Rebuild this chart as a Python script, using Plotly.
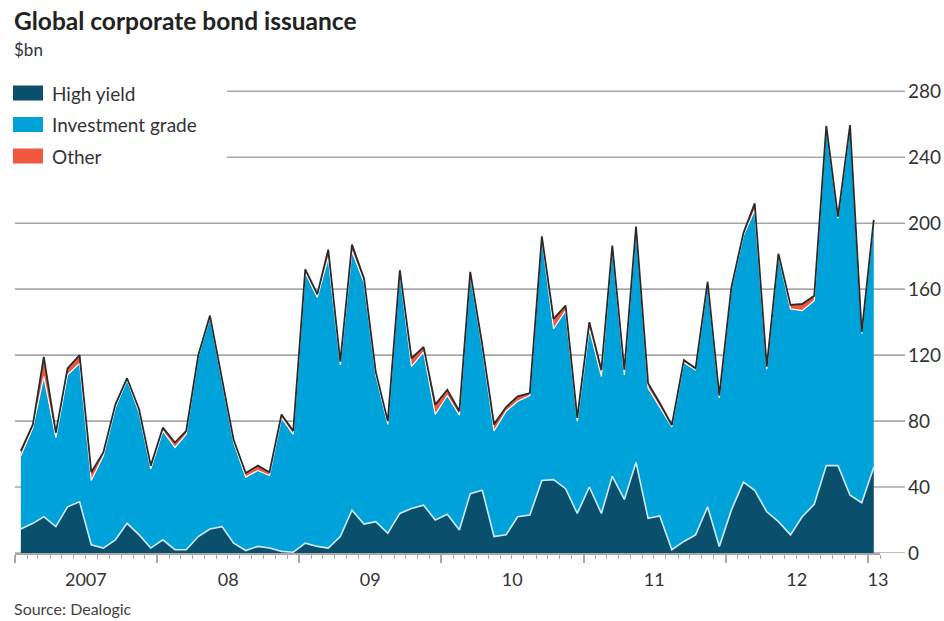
import pandas as pd
import plotly.graph_objects as go

# Monthly data, Jan 2007 - Jan 2013, $bn
months = pd.date_range("2007-01-01", periods=73, freq="MS") + pd.Timedelta(days=15)

high_yield = [14.5, 18, 22, 16, 28, 31, 5, 3, 8, 18, 11, 3,
              8, 2, 2, 10, 14.5, 16, 6, 1.5, 4, 3, 1, 0.5,
              6, 4, 3, 10, 26, 17.5, 19, 12, 24, 27, 29, 20,
              23.5, 14, 36, 38, 10, 11, 22, 23, 44, 44.5, 39, 24,
              40, 24, 46.5, 32.5, 55, 21, 22.5, 2, 7, 11, 28, 4,
              26, 43, 38, 25, 19, 11, 22, 29.5, 53, 53, 35, 30.5,
              52]
investment_grade = [44.5, 58, 85, 54, 80, 84, 39, 56, 80, 87, 74, 48,
                    66, 62, 70, 109, 128.5, 88, 61, 44.5, 46, 44, 81, 71.5,
                    164, 151, 176, 104, 157, 146.5, 89, 66, 146, 86, 93, 64,
                    72, 69.5, 133, 86, 64, 75, 70, 72.5, 147, 91.5, 108, 56,
                    96, 83, 138.5, 75.5, 142, 79, 66, 74.5, 108.5, 100, 135, 90,
                    134, 149.5, 170, 86.5, 161.5, 137, 125, 123.5, 205, 150, 223.5, 102.5,
                    149]
other = [3, 2, 12, 3, 4, 5, 5, 2, 2, 1, 2, 2,
         2, 3, 2, 1, 1, 1, 1.5, 2.5, 3, 2, 2, 2,
         2, 2, 5, 2, 4, 2.5, 2, 2, 1.5, 5, 3, 6,
         3.5, 2.5, 1.5, 2, 4, 2.5, 3, 1.5, 1, 6, 3, 2,
         4, 4, 1.5, 3, 1, 3, 2.5, 1, 1.5, 1, 1.5, 1.5,
         1, 1.5, 4, 1.5, 1, 2.5, 4, 3, 1, 1, 1, 1,
         1]

series_names = ["High yield", "Investment grade", "Other"]
y_ticks = [0, 40, 80, 120, 160, 200, 240, 280]
year_label_pos = ["2007-07-02", "2008-07-02", "2009-07-02", "2010-07-02",
                  "2011-07-02", "2012-07-02", "2013-01-27"]
year_labels = ["2007", "08", "09", "10", "11", "12", "13"]

HY_C = "#0a4f6c"
IG_C = "#00a2da"
OT_C = "#f1563e"
GRID = "#a8a8a8"
FONT = "Lato"
colors = [HY_C, IG_C, OT_C]

W, H = 944, 621
L, R, T, B = 15, 64, 88, 68
PW, PH = W - L - R, H - T - B


def px(x):
    return (x - L) / PW


def py(y):
    return (H - B - y) / PH


fig = go.Figure()
fig.add_trace(go.Scatter(x=months, y=high_yield, name=series_names[0],
                         stackgroup="s", mode="lines",
                         line=dict(color="#cfe9f4", width=1.6),
                         fillcolor=HY_C, showlegend=False))
fig.add_trace(go.Scatter(x=months, y=investment_grade, name=series_names[1],
                         stackgroup="s", mode="lines",
                         line=dict(color="#ffffff", width=1.2),
                         fillcolor=IG_C, showlegend=False))
fig.add_trace(go.Scatter(x=months, y=other, name=series_names[2],
                         stackgroup="s", mode="lines",
                         line=dict(color="#2a2a2a", width=1.8),
                         fillcolor=OT_C, showlegend=False))

x_start = pd.Timestamp("2007-01-01")
x_end = pd.Timestamp("2013-02-01")
major = pd.date_range("2007-01-01", "2013-01-01", freq="YS")
minor = pd.date_range("2007-01-01", "2013-02-01", freq="MS")

# horizontal gridlines (the top two stop short to leave room for the legend),
# running on past the plot into the right-hand tick labels
for v in y_ticks:
    x0 = px(227) if v >= 240 else 0
    fig.add_shape(type="line", xref="paper", yref="y", x0=x0, x1=px(905),
                  y0=v, y1=v, line=dict(color=GRID, width=1.6), layer="below")

# legend (swatches + labels)
for i, (name, c) in enumerate(zip(series_names, colors)):
    yc = 93 + i * 31.5
    fig.add_shape(type="rect", xref="paper", yref="paper",
                  x0=px(13), x1=px(43), y0=py(yc - 7.5), y1=py(yc + 7.5),
                  fillcolor=c, line=dict(width=0))
    fig.add_annotation(text=name, xref="paper", yref="paper", x=px(50), y=py(yc),
                       xanchor="left", yanchor="middle", showarrow=False,
                       font=dict(size=19, color="#333333", family=FONT))

fig.update_layout(
    width=W, height=H,
    margin=dict(l=L, r=R, t=T, b=B, autoexpand=False),
    paper_bgcolor="white", plot_bgcolor="white",
    font=dict(family=FONT, color="#333333", size=16),
    showlegend=False,
    xaxis=dict(type="date", range=[x_start, x_end], showgrid=False, automargin=False,
               zeroline=False, showline=True, linecolor=GRID, linewidth=1.6,
               tickmode="array", tickvals=list(major), showticklabels=False,
               ticks="outside", ticklen=8, tickcolor=GRID, tickwidth=1.5,
               minor=dict(tickmode="array", tickvals=list(minor), ticks="outside",
                          ticklen=4, tickcolor=GRID, tickwidth=1.2, showgrid=False)),
    xaxis2=dict(type="date", range=[x_start, x_end], overlaying="x", side="bottom",
                anchor="y", showgrid=False, zeroline=False, showline=False, automargin=False,
                tickmode="array", tickvals=year_label_pos, ticktext=year_labels,
                ticks="outside", ticklen=10, tickcolor="rgba(0,0,0,0)",
                tickfont=dict(size=18, color="#333333")),
    yaxis=dict(range=[0, 282], side="right", showgrid=False, zeroline=False,
               showline=False, tickmode="array", tickvals=y_ticks, automargin=False,
               ticks="", ticklabelstandoff=27,
               tickfont=dict(size=19, color="#333333")),
)

fig.add_trace(go.Scatter(x=[x_start], y=[0], xaxis="x2", mode="markers",
                         marker=dict(opacity=0), showlegend=False, hoverinfo="skip"))

fig.add_annotation(text="<b>Global corporate bond issuance</b>", xref="paper", yref="paper",
                   x=px(12), y=py(20), xanchor="left", yanchor="middle", showarrow=False,
                   font=dict(size=24.5, color="#222222", family=FONT))
fig.add_annotation(text="$bn", xref="paper", yref="paper", x=px(12), y=py(50),
                   xanchor="left", yanchor="middle", showarrow=False,
                   font=dict(size=17, color="#333333"))
fig.add_annotation(text="Source: Dealogic", xref="paper", yref="paper", x=px(12), y=py(608),
                   xanchor="left", yanchor="middle", showarrow=False,
                   font=dict(size=16, color="#444444"))

fig.write_html("out.html")
